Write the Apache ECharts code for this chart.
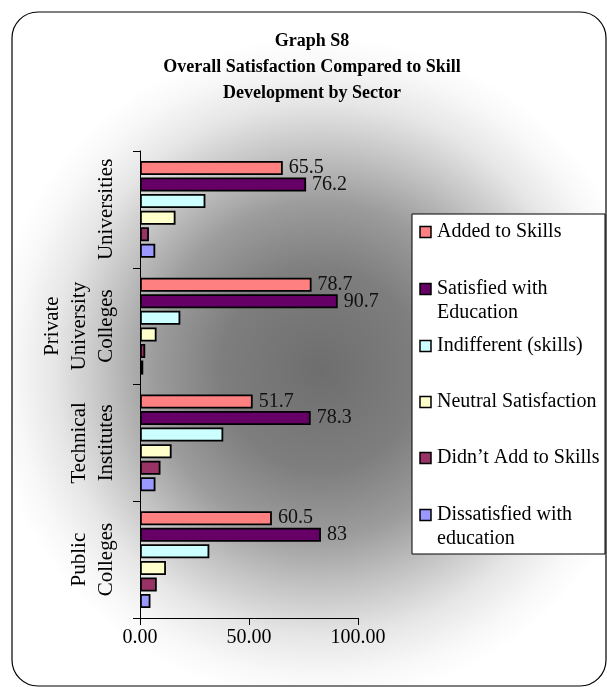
<!DOCTYPE html>
<html>
<head>
<meta charset="utf-8">
<script src="https://cdn.jsdelivr.net/npm/echarts@6/dist/echarts.min.js"></script>
<style>
html,body{margin:0;padding:0;background:#fff;}
#chart{width:607px;height:687px;}
</style>
</head>
<body>
<div id="chart"></div>
<script>
// ---- data ----
const categories = ['Universities', 'Private\nUniversity\nColleges', 'Technical\nInstitutes', 'Public\nColleges'];
const seriesNames = ['Added to Skills', 'Satisfied with Education', 'Indifferent (skills)', 'Neutral Satisfaction', 'Didn\u2019t Add to Skills', 'Dissatisfied with education'];
const legendLabels = ['Added to Skills', 'Satisfied with\nEducation', 'Indifferent (skills)', 'Neutral Satisfaction', 'Didn\u2019t Add to Skills', 'Dissatisfied with\neducation'];
const addedToSkills = [65.5, 78.7, 51.7, 60.5];
const satisfiedWithEducation = [76.2, 90.7, 78.3, 83];
const indifferentSkills = [30.0, 18.5, 38.2, 31.8];
const neutralSatisfaction = [16.3, 7.6, 14.5, 11.9];
const didntAddToSkills = [4.1, 2.4, 9.4, 7.7];
const dissatisfiedWithEducation = [7.0, 1.5, 7.1, 4.8];
const xTicks = [0, 50, 100];

const seriesValues = [addedToSkills, satisfiedWithEducation, indifferentSkills, neutralSatisfaction, didntAddToSkills, dissatisfiedWithEducation];
const colors = ['#FF8080', '#660066', '#CCFFFF', '#FFFFCC', '#993366', '#9999FF'];
const labelled = [true, true, false, false, false, false];

const FONT = '"Liberation Serif", "Times New Roman", serif';

const chart = echarts.init(document.getElementById('chart'), null, {renderer: 'canvas'});

// custom legend (icon aligned with first text line)
const legendFirstLineY = [232, 289, 346, 402, 458, 515];
const legendElems = [{
  type: 'rect', z: 10,
  shape: {x: 412, y: 214, width: 193, height: 340},
  style: {fill: '#fff', stroke: '#000', lineWidth: 1}
}];
legendLabels.forEach((t, i) => {
  const cy = legendFirstLineY[i];
  legendElems.push({
    type: 'rect', z: 11,
    shape: {x: 420, y: cy - 5.5, width: 11, height: 11},
    style: {fill: colors[i], stroke: '#000', lineWidth: 1.5}
  });
  legendElems.push({
    type: 'text', z: 11, x: 437, y: cy - 12,
    style: {text: t, font: '20px ' + FONT, fill: '#000', lineHeight: 24, align: 'left', verticalAlign: 'top'}
  });
});

const option = {
  animation: false,
  title: {
    text: 'Graph S8\nOverall Satisfaction Compared to Skill\nDevelopment by Sector',
    left: 307, top: 23, textAlign: 'center',
    textStyle: {fontFamily: FONT, fontWeight: 'bold', fontSize: 18, lineHeight: 26, color: '#000'}
  },
  graphic: [{
    type: 'rect', z: -100,
    shape: {x: 12, y: 12, width: 594, height: 674, r: 26},
    style: {
      stroke: '#000', lineWidth: 1.2,
      fill: {type: 'radial', x: 0.52, y: 0.53, r: 0.56, colorStops: [
        {offset: 0, color: '#6e6e6e'},
        {offset: 0.3, color: '#7e7e7e'},
        {offset: 0.5, color: '#9c9c9c'},
        {offset: 0.65, color: '#c2c2c2'},
        {offset: 0.8, color: '#e6e6e6'},
        {offset: 0.92, color: '#f8f8f8'},
        {offset: 1, color: '#ffffff'}
      ]}
    }
  }].concat(legendElems),
  grid: {left: 140, right: 249, top: 151, bottom: 69, containLabel: false, outerBoundsMode: 'none'},
  xAxis: {
    type: 'value', min: xTicks[0], max: xTicks[xTicks.length - 1], interval: 50,
    splitLine: {show: false},
    axisLine: {show: true, lineStyle: {color: '#000', width: 1}},
    axisTick: {show: true, length: 7, lineStyle: {color: '#000'}},
    axisLabel: {formatter: v => v.toFixed(2), fontFamily: FONT, fontSize: 20, color: '#000', margin: 10}
  },
  yAxis: {
    type: 'category', data: categories, inverse: true,
    axisLine: {show: true, lineStyle: {color: '#000', width: 1}},
    axisTick: {show: true, length: 7, interval: 0, lineStyle: {color: '#000'}},
    axisLabel: {interval: 0, rotate: 90, fontFamily: FONT, fontSize: 21, lineHeight: 27, color: '#000', margin: 20}
  },
  series: seriesNames.map((name, i) => ({
    type: 'bar', name: name, data: seriesValues[i],
    barCategoryGap: '17%', barGap: '18%',
    itemStyle: {color: colors[i], borderColor: '#000', borderWidth: 1.8},
    label: {show: labelled[i], position: 'right', distance: 6, fontFamily: FONT, fontSize: 20, color: '#111'}
  }))
};
chart.setOption(option);
</script>
</body>
</html>
